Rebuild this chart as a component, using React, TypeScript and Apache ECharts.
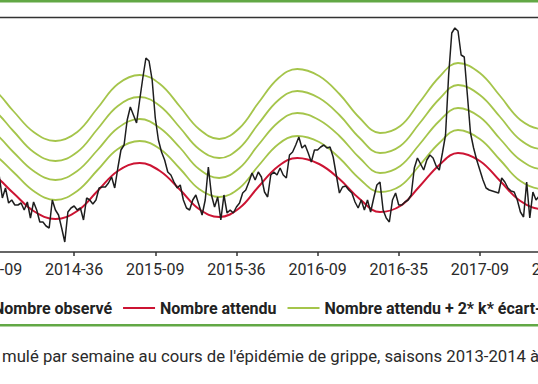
import React, { useEffect, useRef } from "react";
import * as echarts from "echarts";

// x = week index counted from 2014-09 (one step = one week)
const tickLabels = ["2014-09", "2014-36", "2015-09", "2015-36", "2016-09", "2016-35", "2017-09", "2017-36"];
const tickStep = 26;

// Nombre observé, weekly from week 0 (2014-09)
const observe = [
  86, 84, 76, 54, 64, 49, 52, 47, 47, 49, 42, 50, 34, 50, 42, 30, 30, 26, 24, 52,
  42, 37, 24, 10, 40, 44, 46, 42, 44, 32, 54, 52, 48, 52, 64, 65, 65, 69, 75, 64,
  84, 102, 107, 132, 145, 137, 129, 152, 174, 194, 191, 172, 134, 112, 100, 92, 80, 77, 70, 64,
  67, 52, 44, 42, 52, 57, 47, 37, 52, 85, 57, 45, 55, 32, 57, 39, 42, 39, 45, 49,
  59, 62, 70, 79, 72, 80, 75, 60, 55, 77, 80, 77, 84, 77, 74, 97, 100, 107, 115, 104,
  107, 99, 90, 102, 102, 105, 107, 104, 105, 95, 77, 59, 65, 66, 62, 59, 50, 44, 52, 42,
  52, 40, 54, 67, 70, 42, 34, 30, 52, 59, 47, 47, 50, 52, 57, 84, 94, 88, 82, 92,
  97, 94, 86, 82, 99, 117, 177, 219, 224, 221, 197, 195, 157, 119, 104, 92, 82, 72, 64, 62,
  61, 60, 59, 74, 70, 64, 61, 60, 52, 40, 35, 70, 34, 60, 52, 56, 52,
];

// Nombre attendu (sampled weeks) and thresholds attendu + 2*k*écart-type, k = 1..4
const attenduWeeks = [-7, 0, 6.5, 13, 20, 27, 33.5, 40, 47, 53.5, 60, 66, 72.5, 79, 85, 91.5, 97.5, 104.5, 111, 117.5, 124, 130.5, 136.5, 143, 149, 156, 162.5, 169, 176, 183];
const attendu = [84, 77, 59, 41, 33, 41, 61, 81, 89, 81, 62, 43, 35, 44, 65, 86, 94, 88, 73, 53, 40, 46, 65, 87, 99, 91, 71, 51, 43, 51];
const seuil1 = [106, 98, 80, 61, 52, 61, 82, 103, 111, 103, 83, 63, 55, 64, 86, 108, 116, 110, 94, 73, 60, 66, 86, 109, 122, 113, 92, 71, 63, 71];
const seuil2 = [128, 120, 100, 81, 72, 81, 102, 124, 133, 124, 104, 83, 74, 84, 107, 130, 139, 132, 116, 94, 79, 86, 107, 131, 144, 135, 113, 92, 83, 92];
const seuil3 = [149, 142, 121, 100, 91, 100, 123, 146, 155, 146, 124, 103, 94, 104, 128, 152, 161, 154, 137, 114, 99, 106, 128, 153, 167, 157, 135, 112, 103, 112];
const seuil4 = [171, 163, 141, 120, 111, 120, 144, 168, 177, 168, 145, 123, 113, 124, 149, 174, 183, 176, 158, 134, 119, 126, 149, 175, 189, 179, 156, 132, 123, 132];

const NAME_OBS = "Nombre observé";
const NAME_ATT = "Nombre attendu";
const NAME_SEUIL = "Nombre attendu + 2* k* écart-type";

const FONT = "Roboto";
const GREEN = "#a5c54b";

export default function App() {
  const ref = useRef<HTMLDivElement>(null);
  useEffect(() => {
    const chart = echarts.init(ref.current!, null, { renderer: "svg" });
    const pair = (arr: number[]) => arr.map((v, i) => [attenduWeeks[i], v]);
    const seuilSeries = [seuil1, seuil2, seuil3, seuil4].map((s) => ({
      type: "line",
      name: NAME_SEUIL,
      data: pair(s),
      smooth: 0.4,
      symbol: "none",
      showSymbol: false,
      lineStyle: { color: GREEN, width: 1.8 },
      itemStyle: { color: GREEN },
      z: 2,
    }));
    chart.setOption({
      animation: false,
      grid: {
        left: -7,
        right: -23,
        top: 17,
        bottom: 132,
        containLabel: false,
        outerBoundsMode: "none",
      },
      xAxis: {
        type: "value",
        min: 0,
        max: 182,
        interval: tickStep,
        axisLine: { show: true, lineStyle: { color: "#333", width: 1.5 } },
        axisTick: { show: true, length: 4, lineStyle: { color: "#333", width: 1.5 } },
        axisLabel: {
          margin: 9,
          fontFamily: FONT,
          fontSize: 16,
          color: "#2a2a2a",
          showMinLabel: true,
          showMaxLabel: true,
          hideOverlap: false,
          formatter: (v: number) => tickLabels[Math.round(v / tickStep)] ?? "",
        },
        splitLine: { show: false },
      },
      yAxis: { type: "value", min: 0, max: 235, show: false },
      legend: {
        left: -49,
        top: 295,
        width: 900,
        icon: "rect",
        itemWidth: 32,
        itemHeight: 2,
        itemGap: 11,
        textStyle: { fontFamily: FONT, fontWeight: "bold", fontSize: 16, color: "#222" },
        data: [NAME_OBS, NAME_ATT, NAME_SEUIL],
      },
      graphic: [
        { type: "rect", shape: { x: 0, y: 0, width: 538, height: 2.5 }, style: { fill: "#62a845" } },
        { type: "line", shape: { x1: 0, y1: 17.5, x2: 538, y2: 17.5 }, style: { stroke: "#333", lineWidth: 1.5 } },
        { type: "rect", shape: { x: 0, y: 324, width: 538, height: 2.5 }, style: { fill: "#62a845" } },
        {
          type: "text",
          x: 2,
          y: 356,
          style: {
            text: "mulé par semaine au cours de l'épidémie de grippe, saisons 2013-2014 à",
            font: `16.7px ${FONT}`,
            fill: "#2a2a2a",
            verticalAlign: "middle",
          },
        },
      ],
      series: [
        ...seuilSeries,
        {
          type: "line",
          name: NAME_ATT,
          data: pair(attendu),
          smooth: 0.4,
          symbol: "none",
          showSymbol: false,
          lineStyle: { color: "#cc1433", width: 2 },
          itemStyle: { color: "#cc1433" },
          z: 3,
        },
        {
          type: "line",
          name: NAME_OBS,
          data: observe.map((v, i) => [i, v]),
          symbol: "none",
          showSymbol: false,
          lineStyle: { color: "#1e1e1e", width: 1.5 },
          itemStyle: { color: "#1e1e1e" },
          z: 4,
        },
      ],
    });
    return () => chart.dispose();
  }, []);
  return <div ref={ref} style={{ position: "absolute", left: 0, top: 0, width: 538, height: 384 }} />;
}
